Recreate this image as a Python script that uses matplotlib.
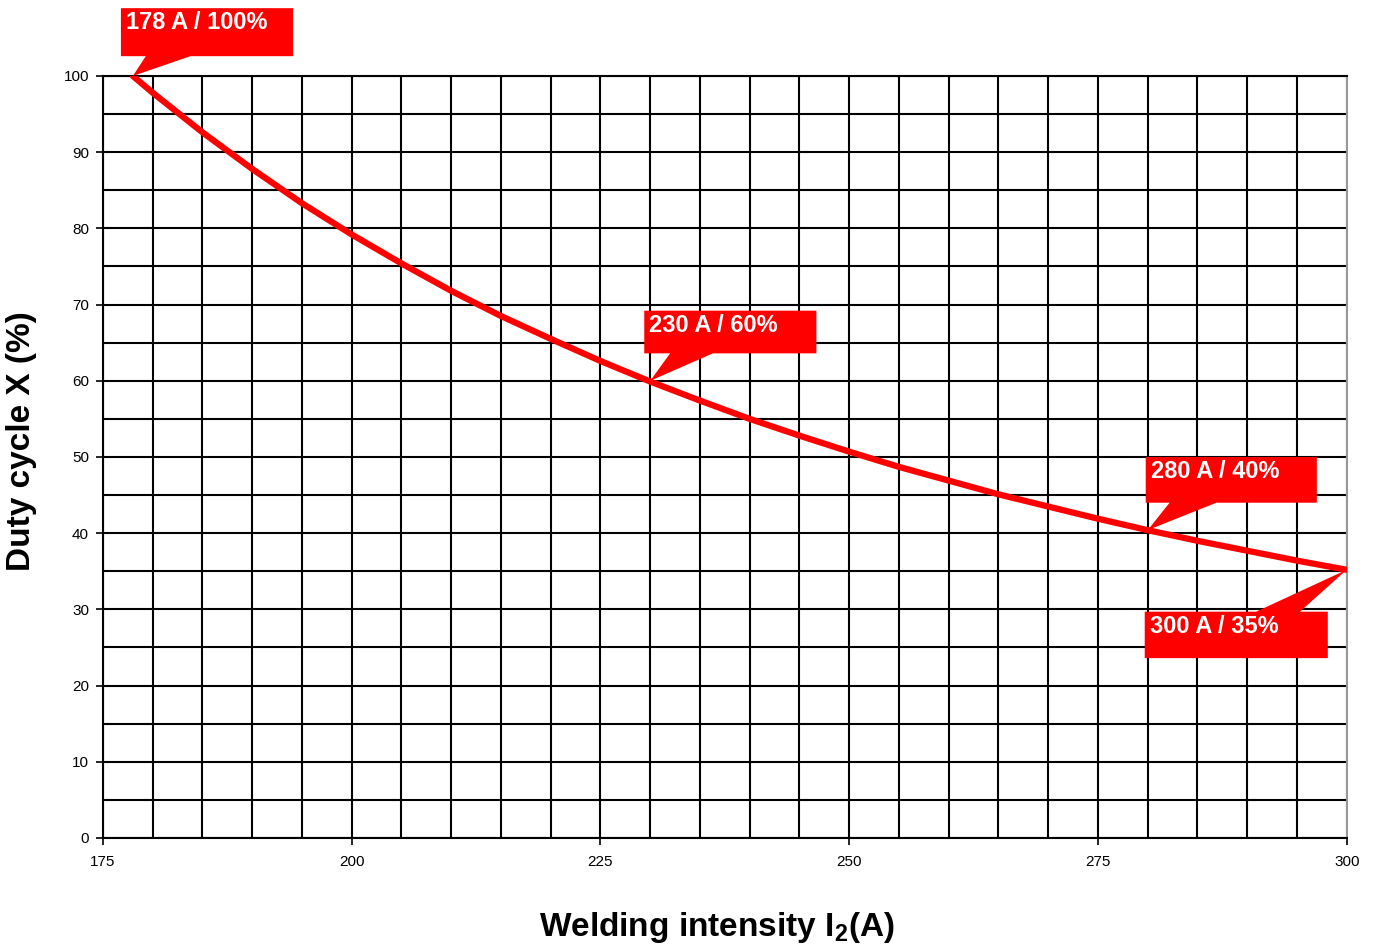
import matplotlib
matplotlib.use("Agg")
import matplotlib.pyplot as plt
from matplotlib.patches import Polygon

plt.rcParams['font.family'] = ['Liberation Sans', 'DejaVu Sans']
plt.rcParams['mathtext.fontset'] = 'custom'
plt.rcParams['mathtext.rm'] = 'Liberation Sans:bold'
plt.rcParams['mathtext.bf'] = 'Liberation Sans:bold'

# current (A) vs duty cycle (%)
current = [178, 180, 185, 190, 195, 200, 205, 210, 215, 220, 225, 230, 235,
           240, 245, 250, 255, 260, 265, 270, 275, 280, 285, 290, 295, 300]
duty = [100, 97.8, 92.6, 87.8, 83.3, 79.2, 75.4, 71.8, 68.5, 65.5, 62.6, 59.9, 57.4,
        55.0, 52.8, 50.7, 48.7, 46.9, 45.1, 43.5, 41.9, 40.4, 39.0, 37.7, 36.4, 35.2]

# callouts
call_x = [178, 230, 280, 300]
call_y = [100, 60, 40.4, 35.2]
call_text = ['178 A / 100%', '230 A / 60%', '280 A / 40%', '300 A / 35%']

xticks = [175, 200, 225, 250, 275, 300]
yticks = [0, 10, 20, 30, 40, 50, 60, 70, 80, 90, 100]

fig = plt.figure(figsize=(13.77, 9.44), dpi=100)
ax = fig.add_axes([0.0748, 0.1123, 0.9032, 0.8072])

# grid every 5 units
for gx in range(175, 301, 5):
    ax.axvline(gx, color='black', lw=1.5, zorder=1)
for gy in range(0, 101, 5):
    ax.axhline(gy, color='black', lw=1.5, zorder=1)

ax.plot(current, duty, color='#ff0000', lw=4.5, solid_capstyle='round',
        solid_joinstyle='round', zorder=3)

ax.set_xlim(175, 300)
ax.set_ylim(0, 100)
ax.set_xticks(xticks)
ax.set_yticks(yticks)
ax.tick_params(axis='both', direction='out', length=5, width=1.2, labelsize=11,
               colors='black')
ax.tick_params(axis='x', pad=7)
ax.tick_params(axis='y', pad=5)
for s in ['left', 'bottom', 'top']:
    ax.spines[s].set_color('black')
    ax.spines[s].set_linewidth(1.5)
ax.spines['right'].set_color('#999999')
ax.spines['right'].set_linewidth(1.5)

ax.set_ylabel('Duty cycle X (%)', fontsize=24, fontweight='bold')
ax.set_xlabel(r'Welding intensity I$_{2}$(A)', fontsize=24, fontweight='bold')
ax.yaxis.set_label_coords(-0.053, 0.521)
ax.xaxis.set_label_coords(0.4936, -0.095)

# box offsets relative to the point: left, width, bottom, top, tail base x0, x1
box_dx = [-1.2, -0.6, -0.2, -20.3]
box_w = [17.3, 17.3, 17.2, 18.4]
box_b = [2.6, 3.6, 3.6, -11.6]
box_t = [8.9, 9.2, 9.6, -5.5]
tail0 = [1.3, 2.0, 2.2, -9.1]
tail1 = [5.8, 6.3, 6.9, -4.7]

for i in range(len(call_x)):
    px, py = call_x[i], call_y[i]
    L = px + box_dx[i]
    R = L + box_w[i]
    B = py + box_b[i]
    T = py + box_t[i]
    t0 = px + tail0[i]
    t1 = px + tail1[i]
    if box_b[i] > 0:
        pts = [(L, B), (t0, B), (px, py), (t1, B), (R, B), (R, T), (L, T)]
    else:
        pts = [(L, T), (t0, T), (px, py), (t1, T), (R, T), (R, B), (L, B)]
    ax.add_patch(Polygon(pts, closed=True, facecolor='#ff0000', edgecolor='none',
                         clip_on=False, zorder=5))
    ax.text(L + 0.5, T - 0.4, call_text[i], color='white', fontsize=17,
            fontweight='bold', ha='left', va='top', zorder=6, clip_on=False)

fig.savefig('out.png', dpi=100)
